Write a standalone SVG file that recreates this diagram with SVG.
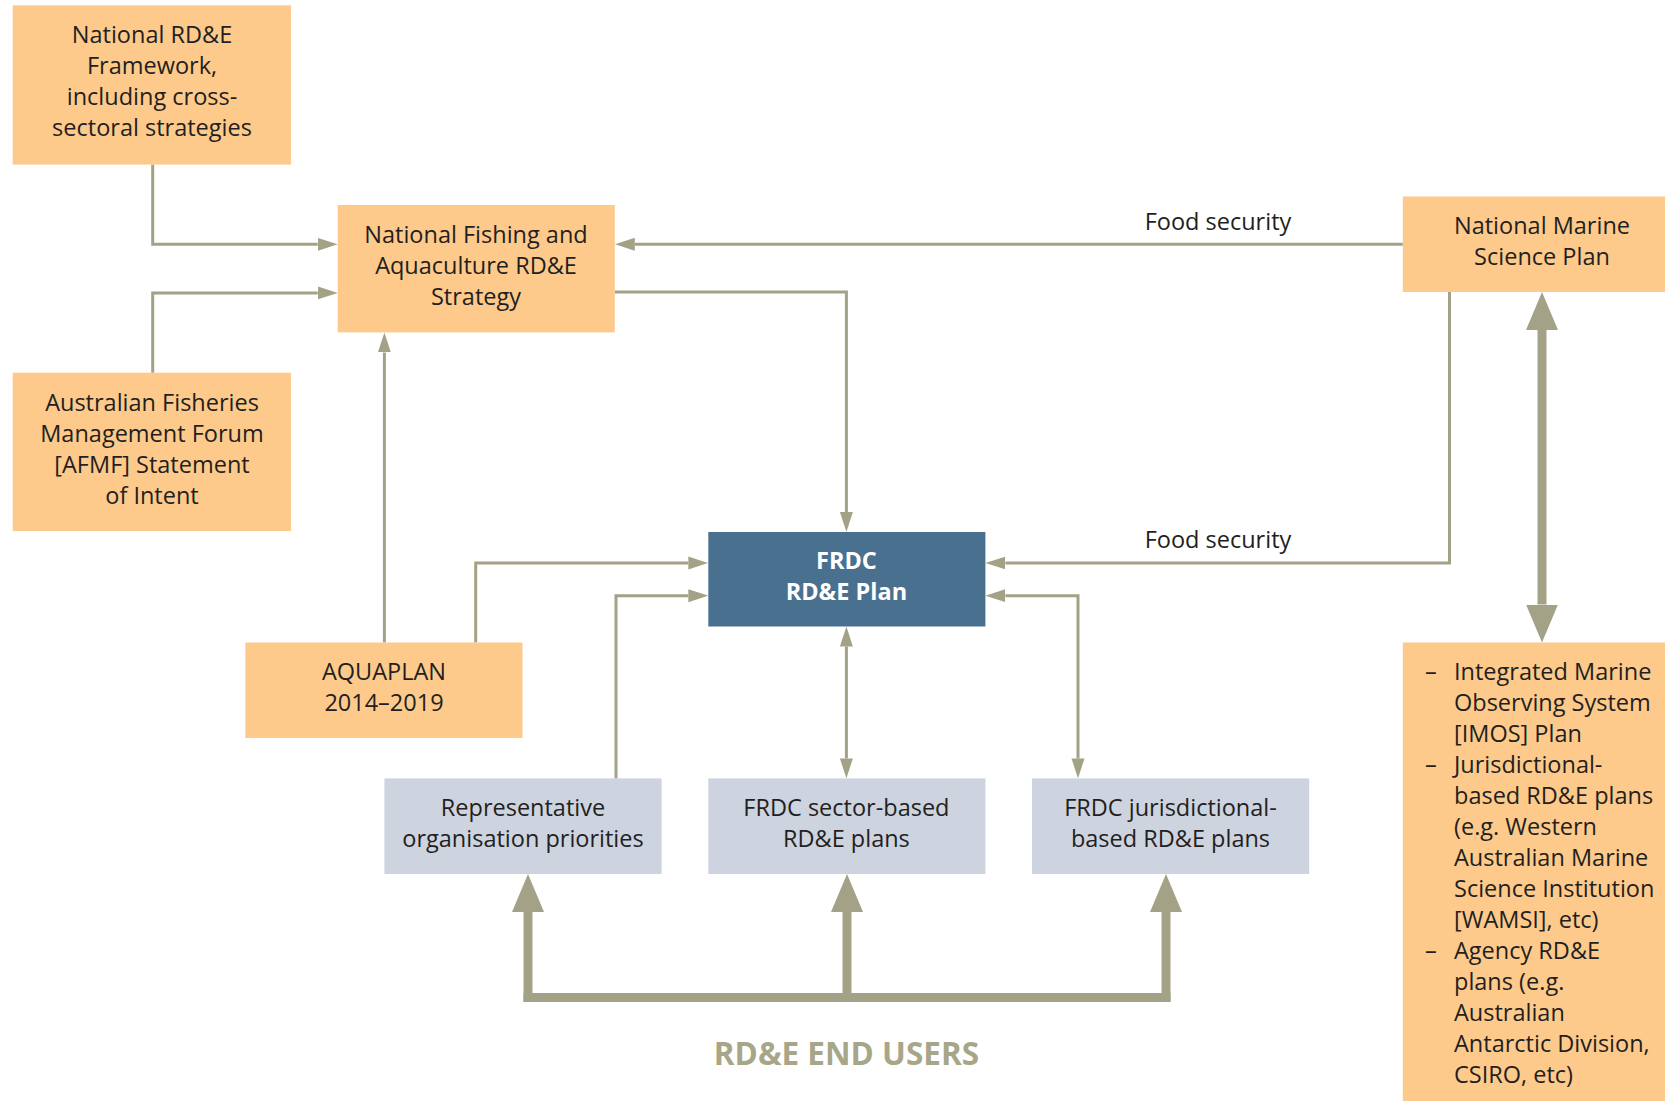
<svg xmlns="http://www.w3.org/2000/svg" width="1665" height="1101" viewBox="0 0 1665 1101">
<style>
.or{fill:#FDCA8B}
.gr{fill:#CDD3DF}
.bl{fill:#4A7090}
.t{font-family:"Open Sans","Liberation Sans",sans-serif;font-size:23.5px;fill:#231F20;text-anchor:middle}
.tl{font-family:"Open Sans","Liberation Sans",sans-serif;font-size:23.5px;fill:#231F20;text-anchor:start}
.tw{font-family:"Open Sans","Liberation Sans",sans-serif;font-size:23.5px;font-weight:bold;fill:#FFFFFF;text-anchor:middle}
.c{fill:none;stroke:#A4A286;stroke-width:3}
.ck{fill:none;stroke:#A4A286;stroke-width:9}
.end{font-family:"Open Sans","Liberation Sans",sans-serif;font-size:31.5px;font-weight:bold;fill:#A8A689;text-anchor:middle}
</style>
<defs>
<marker id="ah" markerUnits="userSpaceOnUse" markerWidth="20" markerHeight="14" refX="0" refY="7" orient="auto-start-reverse"><path d="M0,0.5 L20,7 L0,13.5 Z" fill="#A4A286"/></marker>
<marker id="ahk" markerUnits="userSpaceOnUse" markerWidth="38" markerHeight="32" refX="0" refY="16" orient="auto-start-reverse"><path d="M0,0 L38,16 L0,32 Z" fill="#A4A286"/></marker>
</defs>
<rect width="1665" height="1101" fill="#FFFFFF"/>

<g id="connectors">
<path class="c" d="M152.7,164.6 V244.3 H317.7" marker-end="url(#ah)"/>
<path class="c" d="M152.7,372.7 V292.9 H317.7" marker-end="url(#ah)"/>
<path class="c" d="M1402.8,244.3 H634.8" marker-end="url(#ah)"/>
<path class="c" d="M614.8,292 H846.4 V512" marker-end="url(#ah)"/>
<path class="c" d="M1449.5,292 V563 H1005.4" marker-end="url(#ah)"/>
<path class="c" d="M384.4,642.5 V352.4" marker-end="url(#ah)"/>
<path class="c" d="M475.7,642.5 V563 H688.3" marker-end="url(#ah)"/>
<path class="c" d="M616,778.4 V595.7 H688.3" marker-end="url(#ah)"/>
<path class="c" d="M846.4,646.5 V758.4" marker-start="url(#ah)" marker-end="url(#ah)"/>
<path class="c" d="M1005.4,595.7 H1078 V758.4" marker-start="url(#ah)" marker-end="url(#ah)"/>
<path class="ck" d="M1542,330 V604.5" marker-start="url(#ahk)" marker-end="url(#ahk)"/>
<path class="ck" d="M523.5,997.5 H1170.5"/>
<path class="ck" d="M528,1002 V912" marker-end="url(#ahk)"/>
<path class="ck" d="M847,1002 V912" marker-end="url(#ahk)"/>
<path class="ck" d="M1166,1002 V912" marker-end="url(#ahk)"/>
<text class="t" x="1218" y="230">Food security</text>
<text class="t" x="1218" y="548">Food security</text>
</g>

<g id="national-rde-framework">
<rect class="or" x="12.7" y="5.3" width="278.3" height="159.3"/>
<text class="t" x="152" y="43">National RD&amp;E</text>
<text class="t" x="152" y="74">Framework,</text>
<text class="t" x="152" y="105">including cross-</text>
<text class="t" x="152" y="136">sectoral strategies</text>
</g>

<g id="nfa-strategy">
<rect class="or" x="337.7" y="205" width="277.1" height="127.4"/>
<text class="t" x="476" y="243">National Fishing and</text>
<text class="t" x="476" y="274">Aquaculture RD&amp;E</text>
<text class="t" x="476" y="305">Strategy</text>
</g>

<g id="afmf">
<rect class="or" x="12.7" y="372.7" width="278.3" height="158.3"/>
<text class="t" x="152" y="411">Australian Fisheries</text>
<text class="t" x="152" y="442">Management Forum</text>
<text class="t" x="152" y="473">[AFMF] Statement</text>
<text class="t" x="152" y="504">of Intent</text>
</g>

<g id="nmsp">
<rect class="or" x="1402.8" y="196.5" width="262.2" height="95.5"/>
<text class="t" x="1542" y="234">National Marine</text>
<text class="t" x="1542" y="265">Science Plan</text>
</g>

<g id="frdc-plan">
<rect class="bl" x="708.3" y="532" width="277.1" height="94.5"/>
<text class="tw" x="846.4" y="569">FRDC</text>
<text class="tw" x="846.4" y="600">RD&amp;E Plan</text>
</g>

<g id="aquaplan">
<rect class="or" x="245.3" y="642.5" width="277.2" height="95.5"/>
<text class="t" x="384" y="680">AQUAPLAN</text>
<text class="t" x="384" y="711">2014–2019</text>
</g>

<g id="representative">
<rect class="gr" x="384.4" y="778.4" width="277.2" height="95.6"/>
<text class="t" x="523" y="816">Representative</text>
<text class="t" x="523" y="847">organisation priorities</text>
</g>

<g id="sector-plans">
<rect class="gr" x="708.3" y="778.4" width="277.1" height="95.6"/>
<text class="t" x="846.4" y="816">FRDC sector-based</text>
<text class="t" x="846.4" y="847">RD&amp;E plans</text>
</g>

<g id="jurisdictional-plans">
<rect class="gr" x="1032" y="778.4" width="277.2" height="95.6"/>
<text class="t" x="1170.5" y="816">FRDC jurisdictional-</text>
<text class="t" x="1170.5" y="847">based RD&amp;E plans</text>
</g>

<g id="marine-plans-list">
<rect class="or" x="1402.8" y="642.5" width="262.2" height="458.5"/>
<text class="tl" x="1425" y="680">–</text>
<text class="tl" x="1454" y="680">Integrated Marine</text>
<text class="tl" x="1454" y="711">Observing System</text>
<text class="tl" x="1454" y="742">[IMOS] Plan</text>
<text class="tl" x="1425" y="773">–</text>
<text class="tl" x="1454" y="773">Jurisdictional-</text>
<text class="tl" x="1454" y="804">based RD&amp;E plans</text>
<text class="tl" x="1454" y="835">(e.g. Western</text>
<text class="tl" x="1454" y="866">Australian Marine</text>
<text class="tl" x="1454" y="897">Science Institution</text>
<text class="tl" x="1454" y="928">[WAMSI], etc)</text>
<text class="tl" x="1425" y="959">–</text>
<text class="tl" x="1454" y="959">Agency RD&amp;E</text>
<text class="tl" x="1454" y="990">plans (e.g.</text>
<text class="tl" x="1454" y="1021">Australian</text>
<text class="tl" x="1454" y="1052">Antarctic Division,</text>
<text class="tl" x="1454" y="1083">CSIRO, etc)</text>
</g>

<g id="end-users">
<text class="end" x="846.4" y="1065">RD&amp;E END USERS</text>
</g>
</svg>
